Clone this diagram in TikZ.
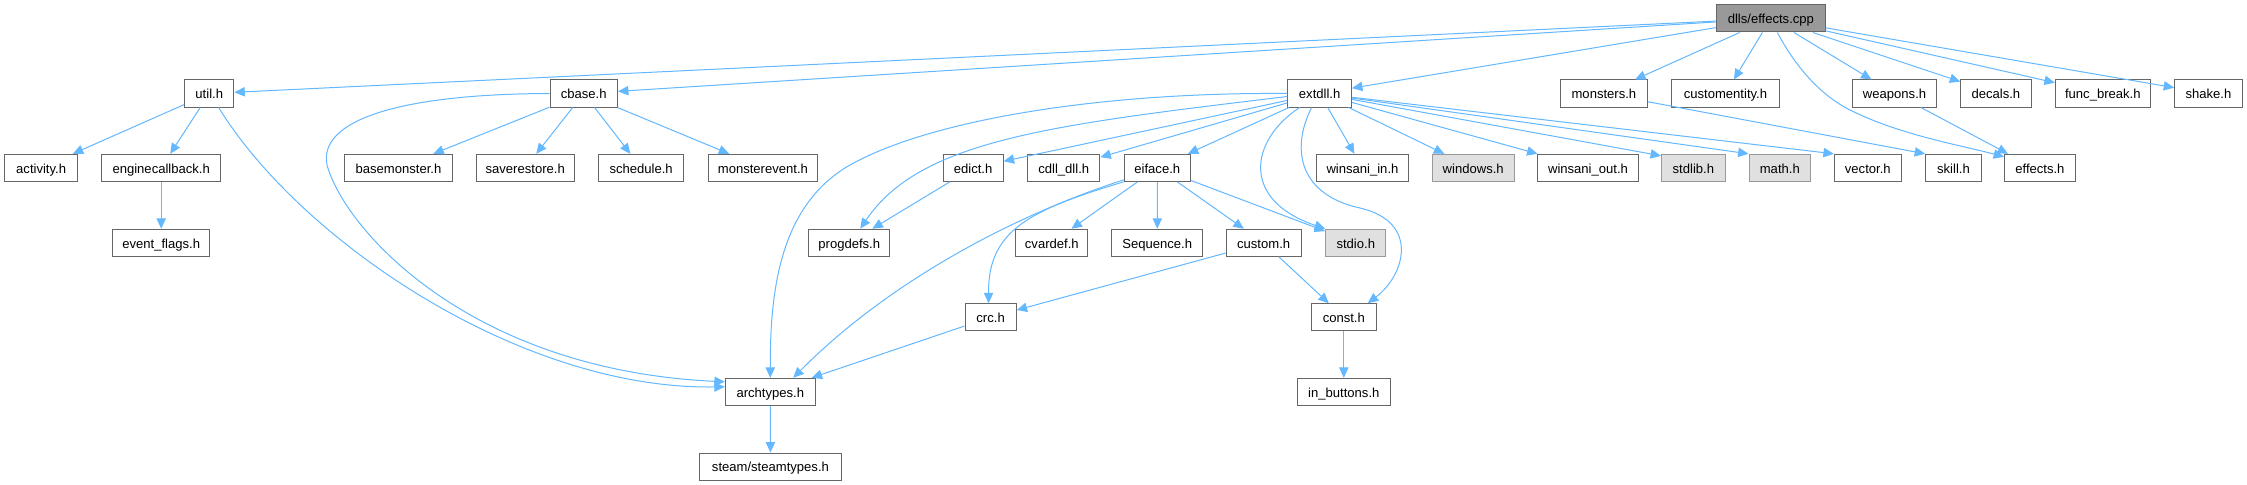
\documentclass[tikz,border=0pt]{standalone}
\usepackage{fontspec}
\setmainfont{Liberation Sans}
\usetikzlibrary{arrows.meta,calc}
\definecolor{edgec}{HTML}{63B8FF}
\definecolor{bordc}{HTML}{666666}
\definecolor{rootc}{HTML}{999999}
\definecolor{extc}{HTML}{E0E0E0}
\definecolor{extb}{HTML}{999999}
\begin{document}
\begin{tikzpicture}[x=0.75pt,y=-0.75pt,
  box/.style={draw=bordc, line width=0.75pt, fill=white, minimum height=20.25pt, inner sep=0pt, text height=8pt, text depth=0pt, font=\fontsize{9.8}{11}\selectfont},
  root/.style={box, fill=rootc},
  ext/.style={box, fill=extc, draw=extb},
  bw/.style={minimum width=#1*0.75pt},
  edge/.style={draw=edgec, line width=0.75pt, -{Triangle[length=7.8pt,width=7pt]}}]
\useasboundingbox (0,0) rectangle (2247,485);
\fill[white] (0,0) rectangle (2247,485);
% row 0
\node[root, bw=108.5] (cpp) at (1770.85,18.5) {dlls/effects.cpp};
% row 1
\node[box, bw=49.3] (util) at (209.25,93.5) {util.h};
\node[box, bw=67.5] (cbase) at (583.75,93.5) {cbase.h};
\node[box, bw=63.7] (extdll) at (1319.65,93.5) {extdll.h};
\node[box, bw=87] (monsters) at (1603.9,93.5) {monsters.h};
\node[box, bw=107.5] (customentity) at (1725.45,93.5) {customentity.h};
\node[box, bw=83.7] (weapons) at (1894.55,93.5) {weapons.h};
\node[box, bw=70.3] (decals) at (1995.85,93.5) {decals.h};
\node[box, bw=95] (funcbreak) at (2102.8,93.5) {func\_break.h};
\node[box, bw=67.6] (shake) at (2208.4,93.5) {shake.h};
% row 2
\node[box, bw=72.7] (activity) at (41.15,167.8) {activity.h};
\node[box, bw=118.6] (enginecb) at (161.2,167.8) {enginecallback.h};
\node[box, bw=107.1] (basemonster) at (398.45,167.8) {basemonster.h};
\node[box, bw=98.4] (saverestore) at (525.2,167.8) {saverestore.h};
\node[box, bw=84.7] (schedule) at (641.15,167.8) {schedule.h};
\node[box, bw=109.6] (monsterevent) at (762.9,167.8) {monsterevent.h};
\node[box, bw=60.2] (edict) at (973.1,167.8) {edict.h};
\node[box, bw=72.3] (cdll) at (1063.75,167.8) {cdll\_dll.h};
\node[box, bw=66] (eiface) at (1157.3,167.8) {eiface.h};
\node[box, bw=91.9] (winsaniin) at (1362.45,167.8) {winsani\_in.h};
\node[ext, bw=81.6] (windows) at (1473.2,167.8) {windows.h};
\node[box, bw=100.4] (winsaniout) at (1588,167.8) {winsani\_out.h};
\node[ext, bw=63.7] (stdlib) at (1693.35,167.8) {stdlib.h};
\node[ext, bw=61.6] (math) at (1779.8,167.8) {math.h};
\node[box, bw=67] (vector) at (1867.8,167.8) {vector.h};
\node[box, bw=55.7] (skill) at (1953.45,167.8) {skill.h};
\node[box, bw=70.8] (effectsh) at (2039.9,167.8) {effects.h};
% row 3
\node[box, bw=96.6] (eventflags) at (161.2,242.7) {event\_flags.h};
\node[box, bw=81.3] (progdefs) at (849.25,242.7) {progdefs.h};
\node[box, bw=72.2] (cvardef) at (1051.8,242.7) {cvardef.h};
\node[box, bw=90.9] (sequence) at (1157.25,242.7) {Sequence.h};
\node[box, bw=75.1] (custom) at (1263.65,242.7) {custom.h};
\node[ext, bw=60.3] (stdio) at (1355.75,242.7) {stdio.h};
% row 4
\node[box, bw=51.2] (crc) at (990.6,317.2) {crc.h};
\node[box, bw=65] (const) at (1343.8,317.2) {const.h};
% row 5
\node[box, bw=90] (archtypes) at (770.3,391.8) {archtypes.h};
\node[box, bw=92.8] (inbuttons) at (1343.8,391.8) {in\_buttons.h};
% row 6
\node[box, bw=141.3] (steam) at (770.45,466.5) {steam/steamtypes.h};

% edges from effects.cpp
\draw[edge] (cpp) -- (util);
\draw[edge] (cpp) -- (cbase);
\draw[edge] (cpp) -- (extdll);
\draw[edge] (cpp) -- (monsters);
\draw[edge] (cpp) -- (customentity);
\draw[edge] (cpp) -- (weapons);
\draw[edge] (cpp) -- (decals);
\draw[edge] (cpp) -- (funcbreak);
\draw[edge] (cpp) -- (shake);
\draw[edge] ($(cpp.south)+(6.5,0)$) .. controls (1795,66) and (1820,95) .. (1850,110) .. controls (1900,135) and (1960,145) .. ($(effectsh.north west)+(0,3)$);
% util
\draw[edge] (util) -- (activity);
\draw[edge] (util) -- (enginecb);
\draw[edge] ($(util.south)+(9.4,0)$) .. controls (300,240) and (520,390) .. ($(archtypes.west)+(0,-5)$);
\draw[edge] (enginecb) -- (eventflags);
% cbase
\draw[edge] (cbase.west) .. controls (400,94) and (318,120) .. (327,165) .. controls (345,230) and (470,370) .. ($(archtypes.west)+(0,-10)$);
\draw[edge] (cbase) -- (basemonster);
\draw[edge] (cbase) -- (saverestore);
\draw[edge] (cbase) -- (schedule);
\draw[edge] (cbase) -- (monsterevent);
% extdll
\draw[edge] (extdll.west) .. controls (1100,92) and (930,120) .. (850,165) .. controls (780,205) and (770,290) .. (archtypes.north);
\draw[edge] ($(extdll.west)+(0,3)$) .. controls (1050,125) and (920,140) .. ($(progdefs.north)+(11,0)$);
\draw[edge] (extdll) -- (edict);
\draw[edge] (extdll) -- (cdll);
\draw[edge] (extdll) -- (eiface);
\draw[edge] ($(extdll.south)+(-20,0)$) .. controls (1250,140) and (1240,200) .. (stdio.north west);
\draw[edge] ($(extdll.south)+(-8,0)$) .. controls (1290,150) and (1300,195) .. (1360,208) .. controls (1420,222) and (1405,275) .. ($(const.north)+(24,0)$);
\draw[edge] (extdll) -- (winsaniin);
\draw[edge] (extdll) -- (windows);
\draw[edge] (extdll) -- (winsaniout);
\draw[edge] (extdll) -- ($(stdlib.north west)+(0,2)$);
\draw[edge] (extdll) -- (math.north west);
\draw[edge] (extdll) -- (vector.north west);
% others
\draw[edge] (monsters) -- (skill.north west);
\draw[edge] (weapons) -- ($(effectsh.north west)+(4,0)$);
\draw[edge] (edict) -- (progdefs);
\draw[edge] ($(eiface.south west)+(0,-2)$) .. controls (1000,220) and (880,290) .. ($(archtypes.north)+(23,0)$);
\draw[edge] (eiface.south west) .. controls (1030,210) and (988,230) .. ($(crc.north)+(-2,0)$);
\draw[edge] (eiface) -- (cvardef);
\draw[edge] (eiface) -- (sequence);
\draw[edge] (eiface) -- (custom);
\draw[edge] (eiface) -- (stdio);
\draw[edge] (custom) -- (crc);
\draw[edge] (custom) -- (const);
\draw[edge] (crc) -- (archtypes);
\draw[edge] (const) -- (inbuttons);
\draw[edge] (archtypes) -- (steam);
\end{tikzpicture}
\end{document}
